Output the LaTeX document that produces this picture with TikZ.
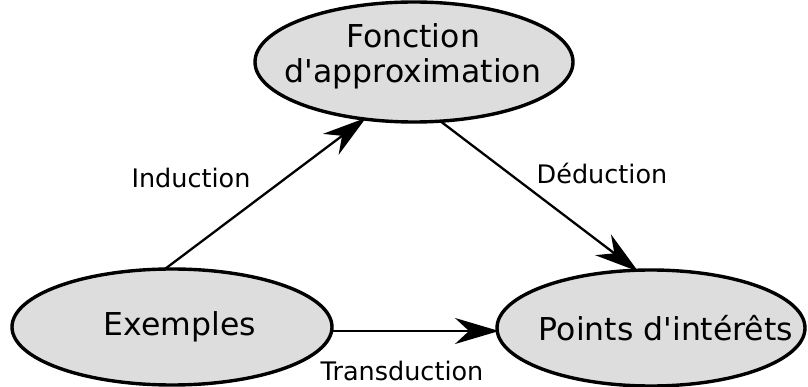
\documentclass[tikz,border=0pt]{standalone}
\usepackage{fontspec}
\setmainfont{DejaVu Sans}
\usetikzlibrary{shapes.geometric,arrows.meta}
\definecolor{nodefill}{HTML}{DDDDDD}
\newcommand{\apos}{\textquotesingle}
\begin{document}
\begin{tikzpicture}[x=1pt,y=-1pt,
  concept/.style={ellipse,draw=black,line width=3.4pt,fill=nodefill,inner sep=0pt,outer sep=0pt},
  conceptlabel/.style={align=center,inner sep=0pt,font=\fontsize{31.5}{35}\selectfont},
  link/.style={draw=black,line width=2.3pt,shorten >=-2pt,
    -{Stealth[length=44pt,width=26pt,inset=14pt]}},
  edgelabel/.style={font=\fontsize{25.5}{30}\selectfont,inner sep=0pt}]
\useasboundingbox (0,0) rectangle (808,387);
% the three concepts
\node[concept,minimum width=318pt,minimum height=120pt] (fa) at (414,62) {};
\node[conceptlabel] (fatext) at (413,56) {Fonction\\d\apos approximation};
\node[concept,minimum width=320pt,minimum height=116pt] (ex) at (172,327) {};
\node[conceptlabel] (extext) at (180,327) {Exemples};
\node[concept,minimum width=308pt,minimum height=116pt] (pt) at (651,328) {};
\node[conceptlabel] (pttext) at (666,328) {Points d\apos intérêts};
% reasoning paths
\draw[link] (ex.97) -- (fa.229);
\draw[link] (fa.294) -- (pt.104);
\draw[link] ([yshift=-4pt]ex.east) -- ([yshift=-3pt]pt.west);
\node[edgelabel] (lind) at (191,178) {Induction};
\node[edgelabel] (lded) at (602,173) {Déduction};
\node[edgelabel] (ltra) at (402,371) {Transduction};
\end{tikzpicture}
\end{document}
